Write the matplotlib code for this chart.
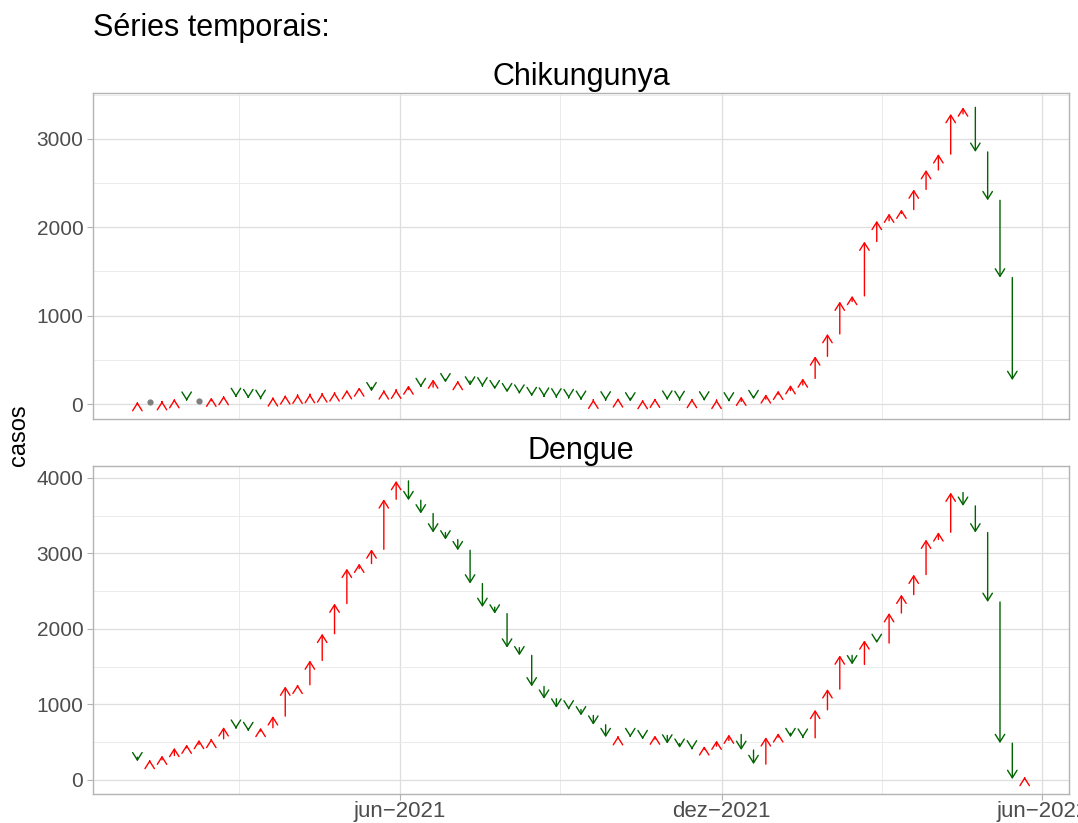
import numpy as np
import pandas as pd
import matplotlib
matplotlib.use('Agg')
import matplotlib.pyplot as plt
import matplotlib.dates as mdates
from matplotlib.patches import FancyArrowPatch
from matplotlib.ticker import FixedLocator, FixedFormatter

plt.rcParams['font.family'] = ['Liberation Sans', 'DejaVu Sans']

# semanas epidemiologicas (inicio em 03/01/2021)
first_week = '2021-01-03'

# casos semanais (valor da semana anterior ao inicio + serie)
chik_start = 0
chik = [25, 25, 35, 58, 38, 38, 75, 93, 80, 67, 58, 78, 100, 108, 115, 123,
        134, 160, 190, 145, 157, 165, 212, 192, 280, 246, 263, 210, 200, 168,
        134, 118, 90, 84, 75, 67, 48, 52, 41, 67, 30, 48, 63, 50, 46, 60,
        41, 50, 30, 86, 56, 112, 153, 216, 291, 541, 794, 1160, 1224, 1838,
        2073, 2155, 2200, 2427, 2647, 2826, 3281, 3355, 2851, 2304, 1431, 272]

dengue_start = 300
dengue = [245, 265, 322, 424, 468, 530, 544, 698, 676, 645, 690, 844, 1237,
          1260, 1582, 1936, 2336, 2798, 2865, 3054, 3717, 3960, 3704, 3528,
          3276, 3183, 3041, 2600, 2289, 2202, 1751, 1649, 1237, 1074, 955,
          932, 853, 730, 565, 580, 565, 538, 588, 480, 424, 402, 446, 521,
          601, 395, 208, 565, 618, 565, 557, 928, 1202, 1649, 1529, 1848,
          1812, 2210, 2454, 2719, 3183, 3280, 3806, 3629, 3276, 2356, 486,
          10, 40]

major_breaks = ['2021-06-01', '2021-12-01', '2022-06-01']
major_labels = ['jun\u22122021', 'dez\u22122021', 'jun\u22122022']
minor_breaks = ['2021-03-02', '2021-08-31', '2022-03-02']

panels = [('Chikungunya', chik_start, chik, [0, 1000, 2000, 3000]),
          ('Dengue', dengue_start, dengue, [0, 1000, 2000, 3000, 4000])]

W, H = 1078, 823
fig = plt.figure(figsize=(W / 100, H / 100), dpi=100)

all_dates = pd.date_range(first_week, periods=max(len(chik), len(dengue)), freq='7D')
xnum = mdates.date2num(all_dates)
span = xnum[-1] - xnum[0]
xlim = (xnum[0] - 0.05 * span, xnum[-1] + 0.05 * span)

boxes = [(93, 92.5, 1069, 419), (93, 466, 1069, 794)]

for i, (name, start, vals, ybreaks) in enumerate(panels):
    x0, y0, x1, y1 = boxes[i]
    ax = fig.add_axes([x0 / W, 1 - y1 / H, (x1 - x0) / W, (y1 - y0) / H])
    prev = [start] + vals[:-1]
    xs = xnum[:len(vals)]
    for x, a, b in zip(xs, prev, vals):
        if a == b:
            ax.plot(x, b, 'o', color='#7f7f7f', ms=4.5, mec='none', zorder=3)
            continue
        col = 'red' if b > a else 'darkgreen'
        arr = FancyArrowPatch((x, a), (x, b),
                              arrowstyle='->,head_length=5.4,head_width=3.4',
                              mutation_scale=1, color=col, lw=1.0,
                              shrinkA=0, shrinkB=0, zorder=3)
        ax.add_patch(arr)

    lo = min(min(vals), start)
    hi = max(max(vals), start)
    pad = 0.05 * (hi - lo)
    ax.set_ylim(lo - pad, hi + pad)
    ax.set_xlim(*xlim)

    ax.yaxis.set_major_locator(FixedLocator(ybreaks))
    ax.yaxis.set_minor_locator(FixedLocator([v + 500 for v in ybreaks]))
    ax.xaxis.set_major_locator(FixedLocator(mdates.datestr2num(major_breaks)))
    ax.xaxis.set_minor_locator(FixedLocator(mdates.datestr2num(minor_breaks)))
    ax.grid(which='major', color='#dedede', lw=0.9)
    ax.grid(which='minor', color='#ebebeb', lw=0.7)
    ax.set_axisbelow(True)
    for s in ax.spines.values():
        s.set_color('#b3b3b3')
        s.set_linewidth(1.0)
    ax.tick_params(axis='both', which='minor', length=0)
    ax.tick_params(axis='both', which='major', color='#b3b3b3', length=4,
                   labelcolor='#4d4d4d', pad=3)
    ax.tick_params(axis='y', labelsize=15)
    ax.tick_params(axis='x', labelsize=16, pad=1)
    if i == 0:
        ax.tick_params(axis='x', which='major', length=0, labelbottom=False)
    else:
        ax.xaxis.set_major_formatter(FixedFormatter(major_labels))
    ax.set_title(name, fontsize=22, pad=5)

fig.text(93 / W, 1 - 28 / H, 'Séries temporais:', fontsize=22, ha='left', va='center')
fig.text(19 / W, 1 - 435 / H, 'casos', fontsize=17, rotation=90, ha='center', va='center')

fig.savefig('out.png', dpi=100)
